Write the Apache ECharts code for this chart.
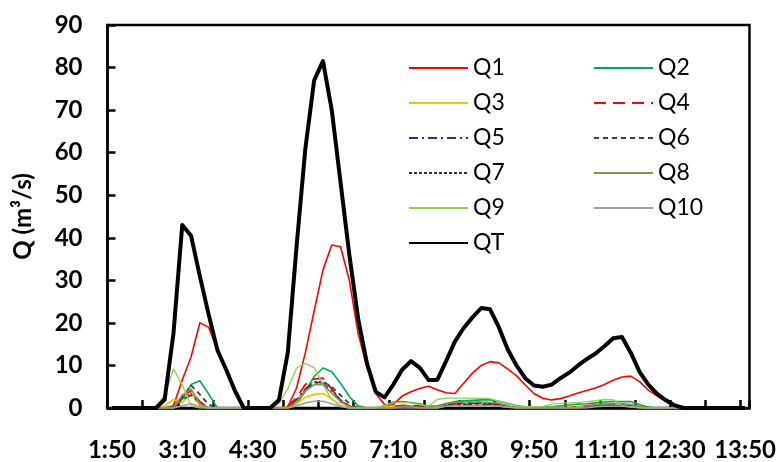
<!DOCTYPE html>
<html>
<head>
<meta charset="utf-8">
<script src="https://cdn.jsdelivr.net/npm/echarts@6/dist/echarts.min.js"></script>
<style>
html,body{margin:0;padding:0;background:#fff;}
#chart{width:779px;height:462px;}
</style>
</head>
<body>
<div id="chart"></div>
<script>
// Time categories (10-minute steps)
var times = ['1:50','2:00','2:10','2:20','2:30','2:40','2:50','3:00','3:10','3:20','3:30','3:40','3:50','4:00','4:10','4:20','4:30','4:40','4:50','5:00','5:10','5:20','5:30','5:40','5:50','6:00','6:10','6:20','6:30','6:40','6:50','7:00','7:10','7:20','7:30','7:40','7:50','8:00','8:10','8:20','8:30','8:40','8:50','9:00','9:10','9:20','9:30','9:40','9:50','10:00','10:10','10:20','10:30','10:40','10:50','11:00','11:10','11:20','11:30','11:40','11:50','12:00','12:10','12:20','12:30','12:40','12:50','13:00','13:10','13:20','13:30','13:40','13:50'];

var Q1 = [0,0,0,0,0,0,0,0.5,6.6,12,20,19,13.6,8.5,4,0,0,0,0,0,0.3,4.7,13,22.8,32.4,38.3,37.9,30,17.5,9.7,3.4,0.8,0.8,2.8,3.8,4.6,5.1,4.3,3.6,3.4,5.8,8.2,10,10.9,10.6,9.2,7.6,5.4,3.4,2.3,1.9,2.2,2.8,3.5,4.1,4.7,5.5,6.5,7.3,7.5,6.2,4.2,2.8,1.5,0.5,0,0,0,0,0,0,0,0];
var Q2 = [0,0,0,0,0,0,0,0.3,2,5.5,6.4,3.3,0,0,0,0,0,0,0,0,0,1,4,7.4,9.4,8.5,5.8,2.7,0.5,0,0,0.5,1.4,1.5,1.3,1,0.4,0.5,1,1.5,1.7,1.8,1.9,1.9,1.6,1.1,0.6,0.3,0.2,0.2,0.3,0.5,0.7,0.9,1,1.2,1.4,1.5,1.5,1.5,0.8,0.2,0,0,0,0,0,0,0,0,0,0,0];
var Q3 = [0,0,0,0,0,0,0.5,2,1.2,3.5,0.5,0,0,0,0,0,0,0,0,0,0.3,1,2.5,3.2,3.4,2.2,0.6,0,0,0,0,0.2,0.5,0.5,0.5,0.3,0,0.2,0.5,0.6,0.6,0.6,0.6,0.6,0.5,0.2,0.1,0.1,0.1,0.1,0.1,0.1,0.1,0.2,0.3,0.4,0.5,0.5,0.5,0.3,0.1,0,0,0,0,0,0,0,0,0,0,0,0];
var Q4 = [0,0,0,0,0,0,0,0,3,4,1.5,0,0,0,0,0,0,0,0,0,0.3,2.5,5.5,6.8,7,4.5,1.5,0.5,0,0,0,0,0.3,0.6,0.6,0.5,0.2,0,0.8,1,1.1,1.1,1.1,1,0.8,0.4,0,0,0,0,0,0,0,0.3,0.5,0.6,0.7,0.8,0.8,0.6,0.3,0,0,0,0,0,0,0,0,0,0,0,0];
var Q5 = [0,0,0,0,0,0,0,0,2,3,1,0,0,0,0,0,0,0,0,0,0,2,4.5,6,5.8,4,1.8,0.3,0,0,0,0,0,0,0,0,0,0,0.6,0.8,0.8,0.8,0.8,0.8,0.6,0.3,0,0,0,0,0,0,0,0,0,0.4,0.5,0.5,0.5,0.4,0.2,0,0,0,0,0,0,0,0,0,0,0,0];
var Q6 = [0,0,0,0,0,0,0,0,2.5,5.3,3.2,0.8,0,0,0,0,0,0,0,0,0,1.5,4,5.8,6.2,5,3,1,0,0,0,0,0,0.4,0.4,0,0,0,1,1.2,1.3,1.3,1.3,1.2,1,0.5,0,0,0,0,0,0,0,0,0.5,0.7,0.8,0.9,0.9,0.7,0.3,0,0,0,0,0,0,0,0,0,0,0,0];
var Q7 = [0,0,0,0,0,0,0,0,2.5,3.5,1,0,0,0,0,0,0,0,0,0,0,2,4.5,6.2,6.3,4.5,2,0.5,0,0,0,0,0,0,0,0,0,0,0.8,1,1,1,1,1,0.8,0.4,0,0,0,0,0,0,0,0,0,0.5,0.6,0.6,0.6,0.5,0.2,0,0,0,0,0,0,0,0,0,0,0,0];
var Q8 = [0,0,0,0,0,0,0,0,3,4.5,1,0,0,0,0,0,0,0,0,0,0,1.5,4,5.5,5.5,3.5,1.5,0.3,0,0,0,0,0,0.4,0.4,0,0,0,1.1,1.3,1.4,1.4,1.4,1.3,1.1,0.6,0,0,0,0,0,0,0,0,0.6,0.8,0.9,1,1,0.8,0.4,0,0,0,0,0,0,0,0,0,0,0,0];
var Q9 = [0,0,0,0,0,0.3,3,9.2,5.5,0.5,0,0,0,0,0,0,0,0,0,1,4.5,9.4,10.5,9.5,5.5,2,0.5,0,0,0,0,0.6,1.2,1.3,1.2,0.8,0.4,2,2.3,2.3,2.3,2.3,2.3,2.2,1.6,1,0.5,0.3,0.3,0.4,0.9,1.1,1.2,1.3,1.5,1.7,2,1.9,0.6,0.2,0,0,0,0,0,0,0,0,0,0,0,0,0];
var Q10 = [0,0,0,0,0,0,0,0,0.5,1,0.3,0,0,0,0,0,0,0,0,0,0,0.5,1.2,1.6,1.6,1,0.3,0,0,0,0,0,0,0,0,0,0,0,0.4,0.5,0.5,0.5,0.5,0.5,0.4,0.2,0,0,0,0,0,0,0,0,0,0.3,0.4,0.4,0.4,0.3,0.1,0,0,0,0,0,0,0,0,0,0,0,0];
var QT = [0,0,0,0,0,0,2,17.5,43,40.5,31,22,13.6,9,4,0,0,0,0,1.9,13,38,61,77,81.5,70,53,36,21,10.5,3.8,2.5,5.5,9,11,9.5,6.6,6.6,11,15.6,18.8,21.3,23.5,23.2,19,13.8,10,7,5.3,5,5.5,7,8.3,10,11.5,12.8,14.5,16.4,16.7,13,8.5,5.5,3.3,1.8,0.6,0,0,0,0,0,0,0,0];

var yTicks = [0,10,20,30,40,50,60,70,80,90];

var FONT = 'Lato';
function mk(name, data, color, width, type) {
  return {
    name: name, type: 'line', data: data, symbol: 'none', silent: true,
    lineStyle: {color: color, width: width, type: type || 'solid', join: 'round', cap: 'butt'},
    itemStyle: {color: color}
  };
}

var chart = echarts.init(document.getElementById('chart'), null, {renderer: 'canvas'});
var legendText = {fontFamily: FONT, fontSize: 23, color: '#000', lineHeight: 24};
var legendBase = {orient: 'vertical', top: 51, itemWidth: 59, itemHeight: 14, itemGap: 11,
  selectedMode: false, textStyle: legendText, itemStyle: {opacity: 0, borderWidth: 0}};
chart.setOption({
  animation: false,
  backgroundColor: '#fff',
  grid: {left: 107.5, right: 27, top: 25, bottom: 54, show: true, borderColor: '#000', borderWidth: 2.5, containLabel: false},
  legend: [
    Object.assign({}, legendBase, {left: 403, data: ['Q1','Q3','Q5','Q7','Q9','QT']}),
    Object.assign({}, legendBase, {left: 588, data: ['Q2','Q4','Q6','Q8','Q10']})
  ],
  xAxis: {
    type: 'category', data: times, boundaryGap: true,
    axisLine: {show: true, lineStyle: {color: '#000', width: 2.5}},
    axisTick: {show: true, inside: true, length: 8, interval: 3, lineStyle: {color: '#000', width: 2.5}},
    axisLabel: {interval: 7, margin: 30, fontFamily: FONT, fontSize: 24, fontWeight: 'bold', color: '#000'},
    splitLine: {show: false}
  },
  yAxis: {
    type: 'value', min: yTicks[0], max: yTicks[yTicks.length - 1], interval: 10,
    name: 'Q (m³/s)', nameLocation: 'middle', nameGap: 72,
    nameTextStyle: {fontFamily: FONT, fontSize: 24, fontWeight: 'bold', color: '#000'},
    axisLine: {show: true, lineStyle: {color: '#000', width: 2.5}},
    axisTick: {show: true, inside: true, length: 8, lineStyle: {color: '#000', width: 2.5}},
    axisLabel: {margin: 25, fontFamily: FONT, fontSize: 24, fontWeight: 'bold', color: '#000'},
    splitLine: {show: false}
  },
  series: [
    mk('Q1', Q1, '#FF0000', 1.6),
    mk('Q2', Q2, '#00B050', 1.6),
    mk('Q3', Q3, '#FFC000', 1.6),
    mk('Q4', Q4, '#FF0000', 1.8, [12, 7]),
    mk('Q5', Q5, '#1F3A78', 1.6, [9, 4, 2, 4]),
    mk('Q6', Q6, '#404040', 1.8, [5, 4]),
    mk('Q7', Q7, '#333333', 1, [3, 2]),
    mk('Q8', Q8, '#948A54', 1.6),
    mk('Q9', Q9, '#92D050', 1.3),
    mk('Q10', Q10, '#A0A0A0', 1.6),
    mk('QT', QT, '#000000', 4)
  ]
});
</script>
</body>
</html>
